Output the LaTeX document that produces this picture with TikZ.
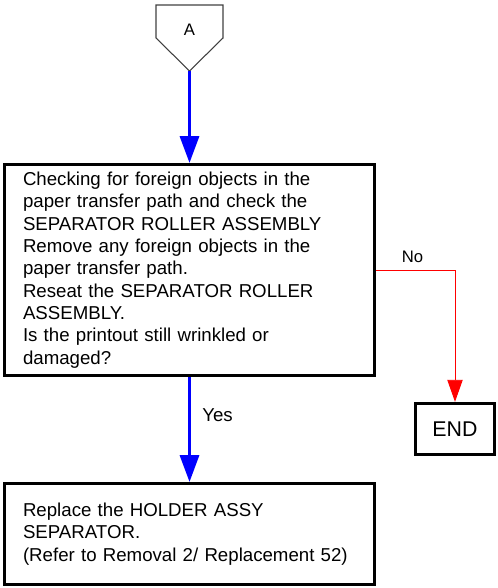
\documentclass[tikz,border=0pt]{standalone}
\usepackage{fontspec}
\setmainfont{Liberation Sans}
\usetikzlibrary{arrows.meta}
\begin{document}
\begin{tikzpicture}[x=0.75pt,y=-0.75pt,
  stepbox/.style={draw=black,line width=2.5pt,rectangle,inner xsep=13.875pt,
    text width=249.75pt,align=left,minimum width=277.5pt,
    font=\fontsize{14}{16.75}\selectfont},
  endbox/.style={draw=black,line width=2.5pt,rectangle,minimum width=59.25pt,
    minimum height=38.25pt,font=\fontsize{16}{19}\selectfont},
  yesarrow/.style={draw={rgb,255:red,0;green,0;blue,255},line width=1.6pt,
    -{Triangle[length=20pt,width=14.5pt]}},
  noarrow/.style={draw={rgb,255:red,255;green,0;blue,0},line width=0.65pt,
    -{Triangle[length=16.5pt,width=11.5pt]}},
  lbl/.style={inner sep=0pt}
]
\useasboundingbox (0,0) rectangle (497,588);
% off-page connector A
\draw[draw=black!75,line width=0.8pt,line join=miter]
  (156,5) -- (223,5) -- (223,38) -- (189.5,71) -- (156,38) -- cycle;
\node[lbl,font=\fontsize{12.5}{14}\selectfont] (A) at (189.5,29.5) {A};
\coordinate (Atip) at (189.5,71);
% main decision box
\node[stepbox,minimum height=158.25pt] (check) at (189.5,270)
  {Checking for foreign objects in the\\
   paper transfer path and check the\\
   SEPARATOR ROLLER ASSEMBLY\\
   Remove any foreign objects in the\\
   paper transfer path.\\
   Reseat the SEPARATOR ROLLER\\
   ASSEMBLY.\\
   Is the printout still wrinkled or\\
   damaged?};
% replace box
\node[stepbox,minimum height=75.75pt] (replace) at (189.5,534)
  {Replace the HOLDER ASSY\\
   SEPARATOR.\\
   (Refer to Removal 2/ Replacement 52)};
% END box
\node[endbox] (end) at (455,429) {END};
\coordinate (nocorner) at (455,270);
% connectors
\draw[yesarrow] (Atip) -- (Atip |- check.north);
\draw[yesarrow] (check.south) -- (replace.north);
\draw[noarrow] (check.east |- nocorner) -- (nocorner) -- (end.north);
% labels
\node[lbl,anchor=west,font=\fontsize{14}{16}\selectfont] (yes) at (202,415) {Yes};
\node[lbl,font=\fontsize{12.5}{15}\selectfont] (no) at (412.5,257) {No};
\end{tikzpicture}
\end{document}
